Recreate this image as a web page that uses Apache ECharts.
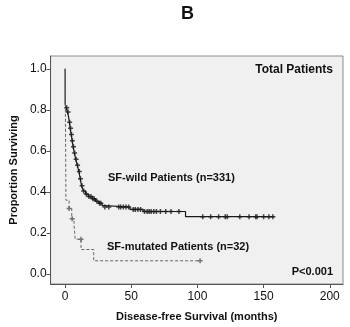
<!DOCTYPE html>
<html>
<head>
<meta charset="utf-8">
<script src="https://cdn.jsdelivr.net/npm/echarts@6/dist/echarts.min.js"></script>
<style>
html, body { margin: 0; padding: 0; background: #fff; }
#chart { width: 350px; height: 327px; }
</style>
</head>
<body>
<div id="chart"></div>
<script>
// Kaplan-Meier curves: [months, survival]
var wildCurve = [[0, 1.0], [0, 0.83], [0.8, 0.81], [1.7, 0.79], [2.5, 0.77], [3.2, 0.74], [3.8, 0.71],
    [4.6, 0.68], [5.3, 0.65], [6, 0.62], [7, 0.59], [8, 0.56], [9.2, 0.53], [10.4, 0.50], [11.4, 0.465],
    [12.4, 0.43], [13.8, 0.405], [15.4, 0.39], [17.5, 0.378], [20.4, 0.367], [23, 0.355], [25.5, 0.345],
    [28, 0.334], [30, 0.327], [49, 0.315], [59, 0.305], [91, 0.28], [158, 0.28]];
var mutCurve = [[0, 1.0], [0.6, 0.36], [3, 0.32], [5, 0.27], [6.7, 0.24], [7.6, 0.17], [12, 0.12],
    [21.6, 0.065], [102, 0.065]];

// censored observations (+ marks)
var wildCensor = [[1.2, 0.81], [2.2, 0.79], [3.4, 0.74], [4.1, 0.71], [4.8, 0.68], [5.5, 0.65], [6.3, 0.62],
    [7.2, 0.59], [8.3, 0.56], [9.4, 0.53], [10.7, 0.50], [11.6, 0.465], [12.8, 0.43], [14, 0.405],
    [16, 0.39], [18, 0.378], [19.5, 0.378], [21, 0.367], [22, 0.367],
    [24, 0.355], [26, 0.345], [27, 0.345], [30, 0.327], [33, 0.327], [40.5, 0.327], [42, 0.327],
    [44, 0.327], [46, 0.327], [48, 0.327], [51.5, 0.315], [53, 0.315], [55, 0.315], [57, 0.315],
    [60, 0.305], [62, 0.305], [63.5, 0.305], [65, 0.305], [67, 0.305], [69, 0.305], [72, 0.305],
    [76, 0.305], [80, 0.305], [86, 0.305], [104, 0.28], [110, 0.28], [116, 0.28], [121, 0.28],
    [122.5, 0.28], [132, 0.28], [139, 0.28], [144, 0.28], [145, 0.28], [150, 0.28], [154, 0.28], [157, 0.28]];
var mutCensor = [[3, 0.32], [5.3, 0.27], [12, 0.17], [102, 0.065]];

var xTicks = [0, 50, 100, 150, 200];
var yTicks = [0, 0.2, 0.4, 0.6, 0.8, 1.0];

var plus = 'path://M3.5,0H6.5V3.5H10V6.5H6.5V10H3.5V6.5H0V3.5H3.5Z';
var font = '"Liberation Sans", Arial, sans-serif';

var myChart = echarts.init(document.getElementById('chart'), null, { renderer: 'canvas' });

option = {
    animation: false,
    backgroundColor: '#fff',
    grid: {
        left: 46, top: 56, right: 7, bottom: 40,
        show: true,
        backgroundColor: '#f0f0f0',
        borderColor: '#8c8c8c',
        borderWidth: 1
    },
    xAxis: {
        type: 'value',
        min: -11, max: 210,
        name: 'Disease-free Survival (months)',
        nameLocation: 'middle',
        nameGap: 27,
        nameTextStyle: { fontFamily: font, fontSize: 11, fontWeight: 'bold', color: '#111' },
        axisLine: { show: true, onZero: false, lineStyle: { color: '#555' } },
        axisTick: { show: true, length: 4, customValues: xTicks, lineStyle: { color: '#555' } },
        axisLabel: { customValues: xTicks, margin: 7, fontFamily: font, fontSize: 12, color: '#111' },
        splitLine: { show: false }
    },
    yAxis: {
        type: 'value',
        min: -0.048, max: 1.0625,
        name: 'Proportion Surviving',
        nameLocation: 'middle',
        nameGap: 29,
        nameTextStyle: { fontFamily: font, fontSize: 11, fontWeight: 'bold', color: '#111' },
        axisLine: { show: true, onZero: false, lineStyle: { color: '#555' } },
        axisTick: { show: true, length: 4, customValues: yTicks, lineStyle: { color: '#555' } },
        axisLabel: {
            customValues: yTicks, margin: 4, fontFamily: font, fontSize: 12, color: '#111',
            formatter: function (v) { return v.toFixed(1); }
        },
        splitLine: { show: false }
    },
    series: [
        {
            name: 'SF-wild', type: 'line', step: 'end', data: wildCurve,
            showSymbol: false, lineStyle: { color: '#1a1a1a', width: 1.2 }
        },
        {
            name: 'SF-mutated', type: 'line', step: 'end', data: mutCurve,
            showSymbol: false, lineStyle: { color: '#666', width: 1, type: [3, 2] }
        },
        {
            type: 'scatter', data: wildCensor, symbol: plus, symbolSize: 5,
            itemStyle: { color: '#1a1a1a' }
        },
        {
            type: 'scatter', data: mutCensor, symbol: plus, symbolSize: 5,
            itemStyle: { color: '#555' }
        }
    ],
    graphic: [
        { type: 'text', left: 181, top: 5, style: { text: 'B', font: 'bold 18px ' + font, fill: '#111' } },
        { type: 'text', right: 17, top: 64, style: { text: 'Total Patients', font: 'bold 12px ' + font, fill: '#111' } },
        { type: 'text', left: 108, top: 172, style: { text: 'SF-wild Patients (n=331)', font: 'bold 11px ' + font, fill: '#111' } },
        { type: 'text', left: 107, top: 241, style: { text: 'SF-mutated Patients (n=32)', font: 'bold 11px ' + font, fill: '#111' } },
        { type: 'text', right: 17, top: 266, style: { text: 'P<0.001', font: 'bold 11px ' + font, fill: '#111' } }
    ]
};

myChart.setOption(option);
</script>
</body>
</html>
